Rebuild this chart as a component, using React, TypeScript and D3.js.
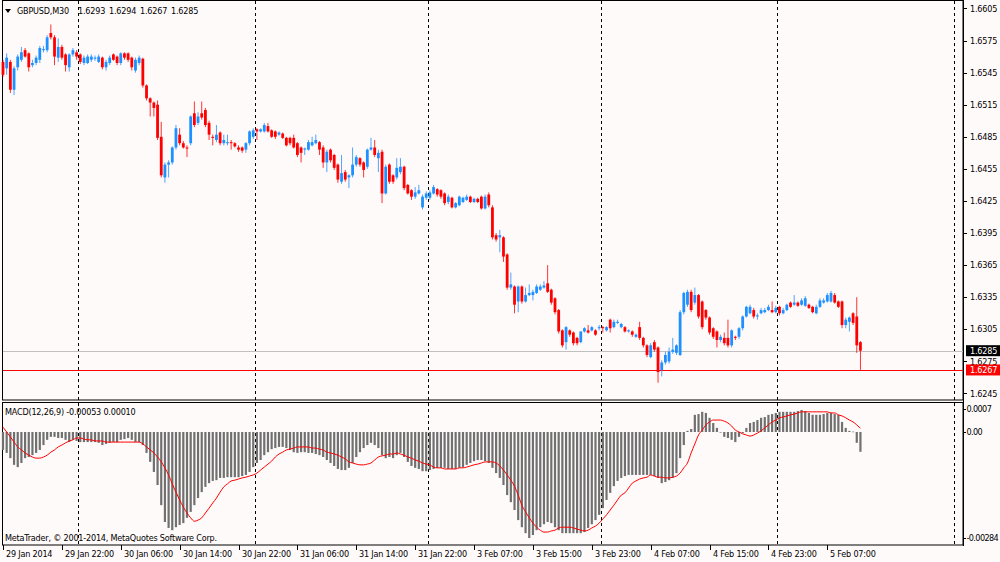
import React from "react";
import * as d3 from "d3";

// ---- GBPUSD M30 candles ----
const opens = [1.6555,1.6549,1.6555,1.6529,1.6550,1.6557,1.6566,1.6563,1.6552,1.6554,
1.6557,1.6566,1.6566,1.6582,1.6578,1.6559,1.6569,1.6562,1.6550,1.6562,
1.6564,1.6562,1.6554,1.6554,1.6557,1.6558,1.6555,1.6559,1.6550,1.6554,
1.6562,1.6560,1.6554,1.6563,1.6563,1.6559,1.6547,1.6554,1.6558,1.6533,
1.6521,1.6517,1.6515,1.6485,1.6447,1.6459,1.6461,1.6475,1.6487,1.6479,
1.6475,1.6479,1.6507,1.6498,1.6507,1.6510,1.6498,1.6485,1.6482,1.6489,
1.6479,1.6479,1.6480,1.6479,1.6475,1.6475,1.6473,1.6479,1.6485,1.6492,
1.6490,1.6490,1.6495,1.6491,1.6490,1.6487,1.6488,1.6484,1.6484,1.6484,
1.6479,1.6475,1.6473,1.6473,1.6477,1.6479,1.6480,1.6475,1.6461,1.6473,
1.6468,1.6459,1.6443,1.6452,1.6447,1.6449,1.6459,1.6465,1.6461,1.6457,
1.6473,1.6475,1.6465,1.6471,1.6432,1.6459,1.6449,1.6447,1.6452,1.6457,
1.6440,1.6435,1.6429,1.6432,1.6419,1.6428,1.6428,1.6432,1.6436,1.6435,
1.6432,1.6424,1.6428,1.6419,1.6421,1.6424,1.6426,1.6429,1.6424,1.6427,
1.6429,1.6418,1.6431,1.6419,1.6393,1.6391,1.6391,1.6375,1.6344,1.6345,
1.6331,1.6345,1.6331,1.6337,1.6337,1.6339,1.6342,1.6344,1.6348,1.6342,
1.6334,1.6323,1.6304,1.6293,1.6304,1.6302,1.6297,1.6293,1.6303,1.6304,
1.6304,1.6304,1.6306,1.6307,1.6304,1.6314,1.6307,1.6311,1.6307,1.6307,
1.6303,1.6303,1.6298,1.6307,1.6297,1.6290,1.6279,1.6293,1.6288,1.6267,
1.6274,1.6275,1.6284,1.6283,1.6281,1.6321,1.6328,1.6340,1.6330,1.6337,
1.6331,1.6323,1.6316,1.6306,1.6303,1.6295,1.6297,1.6297,1.6290,1.6298,
1.6298,1.6306,1.6317,1.6320,1.6323,1.6317,1.6320,1.6321,1.6323,1.6323,
1.6321,1.6326,1.6320,1.6323,1.6330,1.6328,1.6330,1.6328,1.6327,1.6328,
1.6326,1.6320,1.6326,1.6330,1.6331,1.6331,1.6337,1.6331,1.6331,1.6309,
1.6312,1.6320,1.6317,1.6293];

const highs = [1.6557,1.6563,1.6557,1.6551,1.6562,1.6569,1.6568,1.6564,1.6557,1.6561,
1.6570,1.6570,1.6580,1.6590,1.6580,1.6577,1.6571,1.6563,1.6563,1.6568,
1.6566,1.6563,1.6561,1.6562,1.6562,1.6561,1.6562,1.6560,1.6557,1.6561,
1.6563,1.6561,1.6564,1.6564,1.6564,1.6560,1.6559,1.6561,1.6559,1.6534,
1.6522,1.6518,1.6519,1.6499,1.6461,1.6463,1.6476,1.6496,1.6493,1.6481,
1.6477,1.6505,1.6518,1.6508,1.6518,1.6512,1.6500,1.6487,1.6496,1.6490,
1.6487,1.6487,1.6482,1.6480,1.6477,1.6476,1.6480,1.6491,1.6493,1.6493,
1.6493,1.6498,1.6498,1.6492,1.6491,1.6490,1.6489,1.6485,1.6485,1.6487,
1.6480,1.6476,1.6475,1.6482,1.6485,1.6487,1.6481,1.6477,1.6473,1.6474,
1.6469,1.6460,1.6468,1.6454,1.6450,1.6475,1.6468,1.6466,1.6462,1.6474,
1.6484,1.6482,1.6473,1.6473,1.6459,1.6460,1.6450,1.6465,1.6465,1.6458,
1.6441,1.6436,1.6438,1.6440,1.6431,1.6434,1.6435,1.6440,1.6437,1.6436,
1.6433,1.6431,1.6429,1.6424,1.6430,1.6429,1.6431,1.6430,1.6428,1.6428,
1.6430,1.6431,1.6433,1.6421,1.6395,1.6398,1.6392,1.6376,1.6358,1.6346,
1.6346,1.6346,1.6344,1.6347,1.6342,1.6347,1.6347,1.6350,1.6365,1.6343,
1.6335,1.6324,1.6305,1.6308,1.6305,1.6303,1.6298,1.6303,1.6307,1.6309,
1.6308,1.6305,1.6309,1.6308,1.6308,1.6315,1.6314,1.6314,1.6311,1.6308,
1.6305,1.6304,1.6301,1.6312,1.6298,1.6291,1.6292,1.6295,1.6289,1.6276,
1.6284,1.6288,1.6297,1.6291,1.6323,1.6340,1.6342,1.6342,1.6344,1.6338,
1.6332,1.6324,1.6317,1.6307,1.6304,1.6300,1.6302,1.6314,1.6305,1.6299,
1.6307,1.6318,1.6327,1.6328,1.6325,1.6320,1.6325,1.6325,1.6328,1.6331,
1.6327,1.6327,1.6325,1.6329,1.6331,1.6337,1.6331,1.6334,1.6336,1.6329,
1.6327,1.6328,1.6334,1.6334,1.6339,1.6341,1.6339,1.6332,1.6332,1.6316,
1.6317,1.6321,1.6335,1.6294];

const lows = [1.6541,1.6543,1.6526,1.6524,1.6547,1.6555,1.6559,1.6546,1.6550,1.6552,
1.6554,1.6564,1.6564,1.6576,1.6552,1.6555,1.6557,1.6546,1.6546,1.6560,
1.6557,1.6553,1.6552,1.6553,1.6555,1.6556,1.6554,1.6548,1.6547,1.6552,
1.6556,1.6552,1.6552,1.6557,1.6555,1.6547,1.6545,1.6552,1.6531,1.6519,
1.6504,1.6504,1.6482,1.6447,1.6442,1.6447,1.6459,1.6473,1.6477,1.6474,
1.6466,1.6477,1.6494,1.6496,1.6501,1.6494,1.6482,1.6477,1.6480,1.6477,
1.6477,1.6477,1.6473,1.6475,1.6471,1.6470,1.6470,1.6477,1.6483,1.6482,
1.6489,1.6489,1.6489,1.6484,1.6483,1.6486,1.6483,1.6476,1.6477,1.6474,
1.6466,1.6461,1.6468,1.6472,1.6476,1.6478,1.6468,1.6456,1.6452,1.6461,
1.6454,1.6442,1.6441,1.6443,1.6437,1.6447,1.6457,1.6457,1.6447,1.6455,
1.6472,1.6466,1.6452,1.6423,1.6431,1.6441,1.6441,1.6445,1.6450,1.6435,
1.6431,1.6426,1.6427,1.6431,1.6417,1.6426,1.6426,1.6431,1.6429,1.6427,
1.6421,1.6422,1.6418,1.6418,1.6420,1.6423,1.6425,1.6423,1.6423,1.6423,
1.6417,1.6417,1.6419,1.6389,1.6387,1.6377,1.6368,1.6342,1.6342,1.6320,
1.6321,1.6329,1.6330,1.6336,1.6332,1.6338,1.6341,1.6343,1.6339,1.6328,
1.6319,1.6301,1.6288,1.6286,1.6298,1.6290,1.6290,1.6292,1.6302,1.6301,
1.6303,1.6299,1.6304,1.6302,1.6303,1.6302,1.6306,1.6310,1.6306,1.6302,
1.6302,1.6298,1.6297,1.6295,1.6288,1.6279,1.6278,1.6284,1.6255,1.6261,
1.6272,1.6273,1.6282,1.6281,1.6280,1.6319,1.6326,1.6321,1.6328,1.6315,
1.6305,1.6314,1.6300,1.6296,1.6288,1.6293,1.6290,1.6288,1.6288,1.6295,
1.6296,1.6304,1.6316,1.6319,1.6315,1.6314,1.6319,1.6320,1.6322,1.6320,
1.6320,1.6318,1.6319,1.6322,1.6325,1.6327,1.6326,1.6327,1.6326,1.6324,
1.6320,1.6319,1.6325,1.6329,1.6330,1.6330,1.6329,1.6325,1.6306,1.6306,
1.6303,1.6309,1.6283,1.6267];

const closes = [1.6543,1.6559,1.6529,1.6549,1.6560,1.6564,1.6560,1.6550,1.6554,1.6559,
1.6568,1.6567,1.6578,1.6578,1.6560,1.6569,1.6559,1.6552,1.6562,1.6566,
1.6560,1.6555,1.6559,1.6560,1.6560,1.6559,1.6560,1.6550,1.6555,1.6559,
1.6557,1.6554,1.6563,1.6559,1.6557,1.6550,1.6557,1.6559,1.6533,1.6521,
1.6517,1.6512,1.6484,1.6449,1.6459,1.6461,1.6475,1.6493,1.6479,1.6475,
1.6474,1.6504,1.6496,1.6504,1.6503,1.6496,1.6487,1.6484,1.6487,1.6479,
1.6482,1.6480,1.6479,1.6476,1.6473,1.6472,1.6479,1.6490,1.6491,1.6490,
1.6492,1.6496,1.6490,1.6485,1.6485,1.6489,1.6484,1.6477,1.6479,1.6475,
1.6468,1.6470,1.6474,1.6480,1.6480,1.6482,1.6473,1.6461,1.6471,1.6463,
1.6456,1.6445,1.6451,1.6445,1.6449,1.6459,1.6466,1.6459,1.6454,1.6473,
1.6475,1.6468,1.6470,1.6432,1.6457,1.6443,1.6443,1.6456,1.6457,1.6437,
1.6432,1.6429,1.6433,1.6435,1.6429,1.6432,1.6433,1.6438,1.6431,1.6429,
1.6423,1.6429,1.6419,1.6423,1.6429,1.6428,1.6429,1.6424,1.6427,1.6424,
1.6418,1.6429,1.6421,1.6391,1.6389,1.6393,1.6373,1.6344,1.6347,1.6328,
1.6345,1.6331,1.6337,1.6339,1.6340,1.6345,1.6345,1.6346,1.6340,1.6330,
1.6321,1.6303,1.6290,1.6307,1.6300,1.6292,1.6292,1.6303,1.6306,1.6302,
1.6307,1.6300,1.6307,1.6306,1.6307,1.6306,1.6312,1.6312,1.6310,1.6303,
1.6304,1.6300,1.6300,1.6297,1.6290,1.6281,1.6290,1.6286,1.6265,1.6274,
1.6281,1.6284,1.6286,1.6290,1.6321,1.6339,1.6340,1.6323,1.6337,1.6317,
1.6307,1.6316,1.6302,1.6298,1.6295,1.6298,1.6292,1.6290,1.6304,1.6297,
1.6306,1.6317,1.6326,1.6326,1.6317,1.6318,1.6323,1.6323,1.6326,1.6321,
1.6325,1.6320,1.6323,1.6328,1.6326,1.6330,1.6327,1.6332,1.6334,1.6325,
1.6321,1.6326,1.6332,1.6332,1.6337,1.6339,1.6330,1.6326,1.6309,1.6314,
1.6316,1.6311,1.6290,1.6285];

// ---- MACD(12,26,9), values in units of 0.00001 ----
const macdMain = [-48,-56,-70,-88,-94,-83,-70,-67,-62,-56,
-48,-35,-21,-13,-13,-16,-16,-21,-27,-21,
-24,-27,-27,-27,-27,-27,-29,-35,-32,-29,
-27,-27,-21,-19,-16,-21,-27,-27,-35,-56,
-80,-107,-142,-196,-241,-257,-263,-255,-249,-244,
-230,-214,-196,-177,-161,-147,-137,-131,-129,-123,
-123,-121,-121,-121,-121,-118,-115,-107,-94,-83,
-75,-62,-54,-46,-43,-40,-40,-43,-48,-54,
-56,-54,-54,-56,-56,-59,-62,-67,-75,-83,
-91,-99,-102,-102,-96,-83,-67,-54,-43,-35,
-29,-35,-43,-62,-70,-67,-70,-62,-56,-67,
-80,-91,-96,-99,-105,-105,-102,-99,-96,-96,
-96,-99,-99,-99,-96,-94,-88,-83,-78,-75,
-75,-78,-83,-96,-110,-123,-142,-169,-188,-209,
-236,-255,-271,-284,-276,-263,-255,-247,-241,-244,
-255,-263,-271,-271,-271,-271,-271,-271,-268,-257,
-247,-236,-222,-204,-182,-163,-145,-131,-123,-118,
-115,-115,-115,-115,-115,-115,-115,-118,-123,-137,
-134,-129,-123,-110,-70,-35,3,8,46,48,
54,51,38,24,11,-1,-13,-16,-21,-27,
-13,-3,11,24,27,32,38,40,46,48,
51,54,54,54,54,54,56,59,56,51,
46,46,46,48,51,51,48,46,27,11,
3,1,-29,-53];

const macdSignal = [13,0,-13,-27,-40,-48,-56,-62,-67,-70,
-70,-67,-62,-54,-48,-40,-35,-29,-24,-21,
-16,-16,-19,-21,-21,-24,-24,-24,-27,-27,
-27,-27,-27,-27,-27,-27,-27,-27,-32,-40,
-48,-56,-67,-80,-96,-115,-139,-161,-182,-201,
-217,-230,-239,-236,-230,-217,-204,-190,-177,-161,
-147,-139,-131,-129,-126,-123,-121,-118,-115,-110,
-102,-94,-86,-78,-67,-59,-54,-48,-46,-43,
-40,-40,-40,-40,-43,-43,-46,-48,-54,-56,
-59,-62,-67,-72,-80,-83,-86,-88,-88,-86,
-83,-75,-67,-64,-62,-59,-59,-56,-59,-62,
-67,-70,-75,-78,-83,-86,-88,-94,-96,-96,
-99,-99,-99,-99,-96,-96,-94,-91,-88,-86,
-83,-80,-80,-80,-83,-91,-102,-115,-129,-145,
-169,-196,-214,-230,-244,-255,-263,-268,-268,-265,
-263,-257,-255,-255,-255,-257,-260,-263,-265,-263,
-257,-252,-244,-233,-222,-209,-196,-182,-169,-163,
-150,-137,-131,-126,-123,-121,-115,-118,-121,-121,
-123,-123,-121,-118,-110,-96,-83,-56,-32,-8,
5,19,27,32,32,32,29,24,16,5,
0,-5,-8,-11,-8,-3,3,11,19,27,
32,38,40,43,46,48,51,54,54,54,
54,54,54,54,54,51,51,46,43,38,
32,27,19,10];

// ---- axes ----
const timeLabels = ["29 Jan 2014","29 Jan 22:00","30 Jan 06:00","30 Jan 14:00","30 Jan 22:00","31 Jan 06:00","31 Jan 14:00","31 Jan 22:00","3 Feb 07:00","3 Feb 15:00","3 Feb 23:00","4 Feb 07:00","4 Feb 15:00","4 Feb 23:00","5 Feb 07:00"];
const timeLabelEvery = 16;
const daySeparatorBars = [20, 68, 115, 162, 210, 258];
const priceTicks = [1.6245,1.6275,1.6305,1.6335,1.6365,1.6395,1.6425,1.6455,1.6485,1.6515,1.6545,1.6575,1.6605];
const macdTicks = [0.0007, 0.0, -0.00284];
const macdTickLabels = ["0.0007", "0.00", "-0.00284"];
const alertLevel = 1.6267;

const BG = "#FFFAFA";
const BULL = "#1E90FF";
const BEAR = "#FF0000";
const FONT = "'DejaVu Sans Condensed', 'DejaVu Sans', sans-serif";
const FS = 9;
const LS = -0.2;

export default function App() {
  const N = closes.length;
  const W = 1000, H = 562;
  const axisX = 963;
  const x = d3.scaleLinear().domain([0, N - 1]).range([3, 3 + (N - 1) * 3.68]);
  const y = d3.scaleLinear().domain([1.62389, 1.66129]).range([400, 0]);
  const ym = d3.scaleLinear().domain([-0.003, 0.00075]).range([544, 404]);
  const bid = closes[N - 1];

  const sigLine = d3.line<number>()
    .x((_, i) => x(i))
    .y((d) => ym(d / 1e5))
    .curve(d3.curveMonotoneX)(macdSignal) || "";

  const fmt4 = (v: number) => v.toFixed(4);
  const fmt5 = (v: number) => (v / 1e5).toFixed(5);
  const tp = { fontSize: FS, letterSpacing: LS, fontStretch: "condensed" as const };

  return (
    <div style={{ position: "absolute", left: 0, top: 0, width: W, height: H }}>
      <svg width={W} height={H} style={{ display: "block", background: BG }} fontFamily={FONT}>
        <rect x={0} y={0} width={W} height={H} fill={BG} />
        {/* panels frames */}
        <rect x={2.5} y={0.5} width={axisX - 2.5} height={399.5} fill="none" stroke="#000" strokeWidth={1} />
        <rect x={2.5} y={402.5} width={axisX - 2.5} height={142.5} fill="none" stroke="#000" strokeWidth={1} />

        {/* day separators */}
        {daySeparatorBars.map((b, k) => {
          const xs = Math.round(x(b + 0.45)) + 0.5;
          return (
            <g key={"sep" + k}>
              <line x1={xs} x2={xs} y1={1} y2={400} stroke="#000" strokeDasharray="3,3" />
              <line x1={xs} x2={xs} y1={403} y2={545} stroke="#000" strokeDasharray="3,3" />
            </g>
          );
        })}

        {/* bid and alert lines */}
        <line x1={3} x2={axisX} y1={Math.round(y(bid)) + 0.5} y2={Math.round(y(bid)) + 0.5} stroke="#C0C0C0" />
        <line x1={3} x2={axisX} y1={Math.round(y(alertLevel)) + 0.5} y2={Math.round(y(alertLevel)) + 0.5} stroke="#FF0000" />

        {/* candles */}
        {closes.map((c, i) => {
          const o = opens[i];
          const col = c >= o ? BULL : BEAR;
          const cx = x(i);
          const top = y(Math.max(o, c));
          const bot = y(Math.min(o, c));
          return (
            <g key={"c" + i}>
              <line x1={cx} x2={cx} y1={y(highs[i])} y2={y(lows[i])} stroke={col} strokeWidth={1} strokeOpacity={0.8} />
              <rect x={cx - 1.4} y={top} width={2.8} height={Math.max(1, bot - top)} fill={col} />
            </g>
          );
        })}

        {/* MACD histogram */}
        {macdMain.map((v, i) => {
          const y0 = ym(0);
          const y1 = ym(v / 1e5);
          return (
            <rect key={"h" + i} x={x(i) - 1.1} width={2.2} y={Math.min(y0, y1)} height={Math.max(0.6, Math.abs(y1 - y0))} fill="#707070" />
          );
        })}
        <path d={sigLine} fill="none" stroke="#FF0000" strokeWidth={1} />

        {/* right price axis */}
        <line x1={axisX + 0.5} x2={axisX + 0.5} y1={0} y2={546} stroke="#000" />
        {priceTicks.map((p, k) => (
          <g key={"pt" + k}>
            <line x1={axisX} x2={axisX + 4} y1={Math.round(y(p)) + 0.5} y2={Math.round(y(p)) + 0.5} stroke="#000" />
            <text x={axisX + 7} y={y(p)} dy="0.35em" {...tp} fill="#000">{fmt4(p)}</text>
          </g>
        ))}
        {/* bid label */}
        <rect x={axisX + 3} y={y(bid) - 5.5} width={35} height={11} fill="#000" />
        <text x={axisX + 7} y={y(bid)} dy="0.35em" {...tp} fill="#fff">{fmt4(bid)}</text>
        {/* alert label */}
        <rect x={axisX + 3} y={y(alertLevel) - 5.5} width={35} height={11} fill="#FF0000" />
        <text x={axisX + 7} y={y(alertLevel)} dy="0.35em" {...tp} fill="#fff">{fmt4(alertLevel)}</text>

        {/* MACD axis */}
        {macdTicks.map((v, k) => {
          const yy = Math.min(539, Math.max(409, ym(v)));
          return (
            <g key={"mt" + k}>
              <line x1={axisX} x2={axisX + 3} y1={Math.round(yy) + 0.5} y2={Math.round(yy) + 0.5} stroke="#000" />
              <text x={axisX + 3.5} y={yy} dy="0.35em" fontSize={FS} letterSpacing={-0.6} fill="#000">{macdTickLabels[k]}</text>
            </g>
          );
        })}

        {/* time axis */}
        {timeLabels.map((t, k) => {
          const xx = Math.round(x(k * timeLabelEvery)) + 0.5;
          return (
            <g key={"tl" + k}>
              <line x1={xx} x2={xx} y1={545} y2={550} stroke="#000" />
              <text x={xx + 2.5} y={554} dy="0.35em" {...tp} fill="#000">{t}</text>
            </g>
          );
        })}

        {/* headers */}
        <path d="M5,9 L11,9 L8,13 Z" fill="#000" />
        <text x={17} y={11} dy="0.35em" {...tp} fill="#000">GBPUSD,M30</text>
        <text x={78} y={11} dy="0.35em" {...tp} wordSpacing={1.5} fill="#000">
          {[opens[N - 1], highs[N - 1], lows[N - 1], closes[N - 1]].map(fmt4).join(" ")}
        </text>
        <text x={5} y={412} dy="0.35em" {...tp} fill="#000">
          {"MACD(12,26,9) " + fmt5(macdMain[N - 1]) + " " + fmt5(macdSignal[N - 1])}
        </text>
        <text x={5} y={538} dy="0.35em" {...tp} fill="#000">MetaTrader, © 2001-2014, MetaQuotes Software Corp.</text>
      </svg>
    </div>
  );
}
